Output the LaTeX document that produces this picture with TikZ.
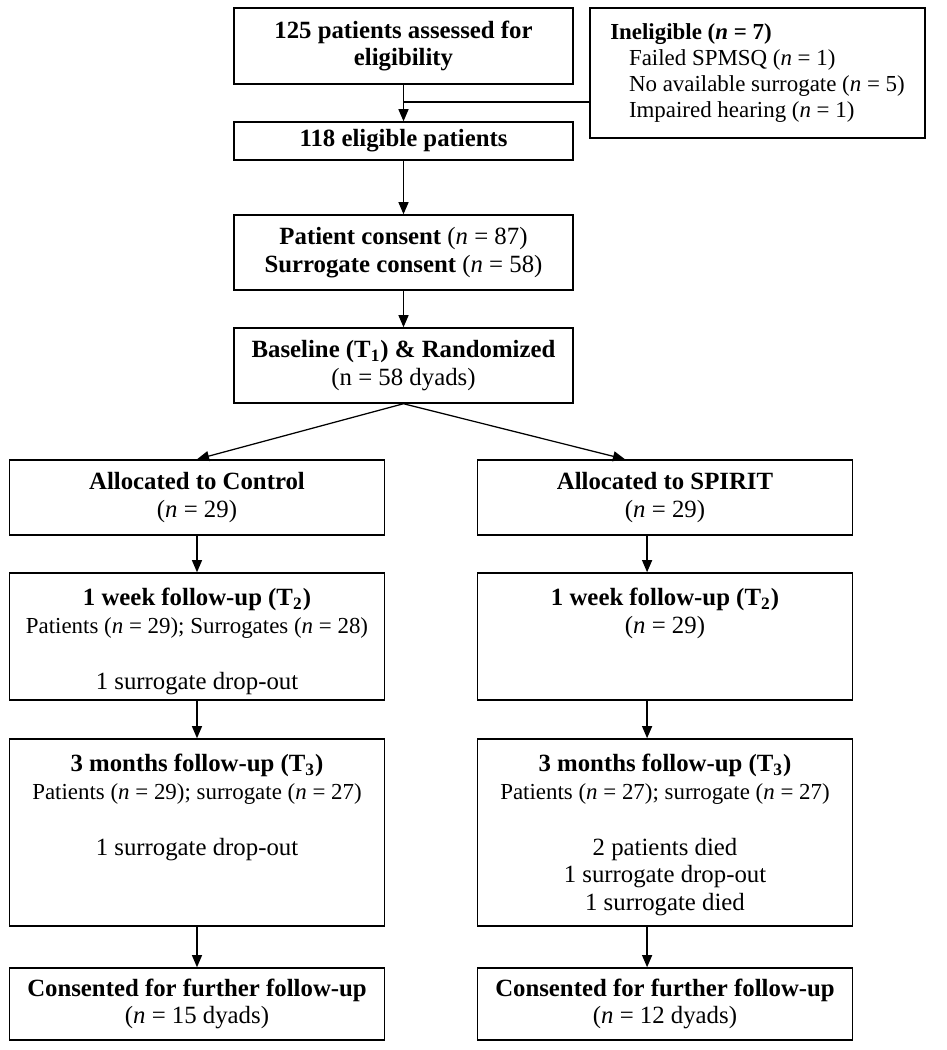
\documentclass[tikz,border=0pt]{standalone}
\usepackage{fontspec}
\setmainfont{Liberation Serif}
\usetikzlibrary{arrows.meta}
\newcommand{\nval}[1]{(\textit{n} = #1)}
\newcommand{\toptext}[2]{\parbox[c][#1][t]{176pt}{\centering\strut #2}}
\newcommand{\lesssize}{\fontsize{11}{13.3}\selectfont}

\begin{document}
\begin{tikzpicture}[x=0.48pt, y=-0.48pt]
\tikzset{every node/.style={font=\fontsize{11.9}{13.3}\selectfont}}
\tikzset{box/.style={draw, line width=0.7pt, align=center, inner sep=2pt}}
\tikzset{midbox/.style={box, minimum width=162.7pt}}
\tikzset{sidebox/.style={box, minimum width=180pt}}
\tikzset{tallbox/.style={draw, line width=0.7pt, inner xsep=2pt, inner ysep=6.5pt}}
\tikzset{arr/.style={line width=0.6pt, -{Triangle[length=5.8pt, width=4.8pt]}}}
\useasboundingbox (0,0) rectangle (946,1050);
% screening
\node[midbox, minimum height=36.5pt] (screen) at (403.5,46)
  {\textbf{125 patients assessed for}\\\textbf{eligibility}};
\node[box, minimum width=160.8pt, minimum height=62.4pt, align=left,
  font=\fontsize{11}{12.5}\selectfont] (inelig) at (757.5,73)
  {\textbf{Ineligible (\textit{n} = 7)}\\\hspace*{9pt}Failed SPMSQ \nval{1}\\
   \hspace*{9pt}No available surrogate \nval{5}\\\hspace*{9pt}Impaired hearing \nval{1}};
\node[midbox, minimum height=18.2pt] (elig) at (403.5,141) {\textbf{118 eligible patients}};
\node[midbox, minimum height=36pt] (consent) at (403.5,252.5)
  {\textbf{Patient consent} \nval{87}\\\textbf{Surrogate consent} \nval{58}};
\node[midbox, minimum height=36pt] (rand) at (403.5,365.5)
  {\textbf{Baseline (T\textsubscript{1}) \& Randomized}\\(n = 58 dyads)};
% control arm
\node[sidebox, minimum height=36pt] (ctrl) at (197,497.5) {\textbf{Allocated to Control}\\\nval{29}};
\node[tallbox] (ctrlweek) at (197,636.5)
  {\toptext{48pt}{\textbf{1 week follow-up (T\textsubscript{2})}\\{\lesssize Patients \nval{29}; Surrogates \nval{28}}\\[13.3pt]1 surrogate drop-out}};
\node[tallbox] (ctrlmonth) at (197,832.5)
  {\toptext{76.8pt}{\textbf{3 months follow-up (T\textsubscript{3})}\\{\lesssize Patients \nval{29}; surrogate \nval{27}}\\[13.3pt]1 surrogate drop-out}};
\node[sidebox, minimum height=34.6pt] (ctrlmore) at (197,1004)
  {\textbf{Consented for further follow-up}\\\nval{15 dyads}};
% SPIRIT arm
\node[sidebox, minimum height=36pt] (spirit) at (665,497.5) {\textbf{Allocated to SPIRIT}\\\nval{29}};
\node[tallbox] (spiritweek) at (665,636.5)
  {\toptext{48pt}{\textbf{1 week follow-up (T\textsubscript{2})}\\\nval{29}}};
\node[tallbox] (spiritmonth) at (665,832.5)
  {\toptext{76.8pt}{\textbf{3 months follow-up (T\textsubscript{3})}\\{\lesssize Patients \nval{27}; surrogate \nval{27}}\\[13.3pt]2 patients died\\1 surrogate drop-out\\1 surrogate died}};
\node[sidebox, minimum height=34.6pt] (spiritmore) at (665,1004)
  {\textbf{Consented for further follow-up}\\\nval{12 dyads}};
% connectors
\coordinate (join) at (403.5,102);
\draw[arr] (screen) -- (elig);
\draw[line width=0.6pt] (join -| inelig.west) -- (join);
\draw[arr] (elig) -- (consent);
\draw[arr] (consent) -- (rand);
\draw[arr] (rand.south) -- (ctrl.north);
\draw[arr] (rand.south) -- ([xshift=-19.2pt]spirit.north);
\foreach \a/\b in {ctrl/ctrlweek, ctrlweek/ctrlmonth, ctrlmonth/ctrlmore}
  \draw[arr] (\a) -- (\b);
\foreach \a/\b in {spirit/spiritweek, spiritweek/spiritmonth, spiritmonth/spiritmore}
  \draw[arr] ([xshift=-8.6pt]\a.south) -- ([xshift=-8.6pt]\b.north);
\end{tikzpicture}
\end{document}
